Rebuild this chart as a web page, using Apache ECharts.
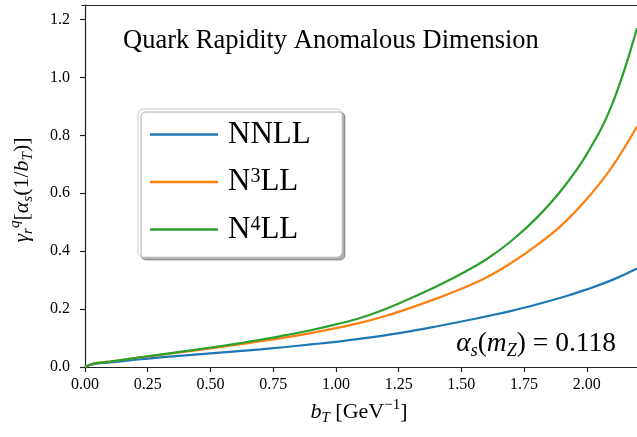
<!DOCTYPE html>
<html>
<head>
<meta charset="utf-8">
<script src="https://cdn.jsdelivr.net/npm/echarts@6/dist/echarts.min.js"></script>
<style>
  html, body { margin: 0; padding: 0; background: #fff; }
  #chart { width: 637px; height: 437px; }
</style>
</head>
<body>
<div id="chart"></div>
<script>
// b_T values (GeV^-1)
var bT = [0, 0.02, 0.05, 0.1, 0.2, 0.3, 0.4, 0.5, 0.6, 0.7, 0.8, 0.9, 1.0,
          1.1, 1.2, 1.3, 1.4, 1.5, 1.6, 1.7, 1.8, 1.9, 2.0, 2.1, 2.2];
// gamma_r^q
var nnll = [0, 0.007, 0.012, 0.016, 0.025, 0.033, 0.040, 0.047, 0.054, 0.061, 0.069, 0.078, 0.087,
            0.098, 0.110, 0.124, 0.140, 0.157, 0.175, 0.194, 0.216, 0.240, 0.268, 0.300, 0.340];
var n3ll = [0, 0.008, 0.014, 0.019, 0.031, 0.042, 0.053, 0.064, 0.076, 0.089, 0.102, 0.117, 0.134,
            0.153, 0.177, 0.205, 0.236, 0.270, 0.309, 0.360, 0.420, 0.490, 0.580, 0.690, 0.830];
var n4ll = [0, 0.008, 0.014, 0.019, 0.031, 0.043, 0.055, 0.067, 0.080, 0.094, 0.110, 0.127, 0.147,
            0.170, 0.201, 0.238, 0.278, 0.322, 0.372, 0.436, 0.515, 0.612, 0.735, 0.905, 1.170];
var xTicks = [0, 0.25, 0.5, 0.75, 1.0, 1.25, 1.5, 1.75, 2.0];
var yTicks = [0, 0.2, 0.4, 0.6, 0.8, 1.0, 1.2];
var seriesNames = ['NNLL', 'N3LL', 'N4LL'];
var legendLabels = { 'NNLL': 'NNLL', 'N3LL': 'N{sup|3}LL', 'N4LL': 'N{sup|4}LL' };

var serif = '"Liberation Serif", "DejaVu Serif", serif';

function pairs(xs, ys) {
	var out = [];
	for (var i = 0; i < xs.length; i++) {
		out.push([xs[i], ys[i]]);
	}
	return out;
}

function makeSeries(name, ys, color) {
	return {
		name: name,
		type: 'line',
		data: pairs(bT, ys),
		smooth: 0.4,
		showSymbol: false,
		clip: true,
		lineStyle: { color: color, width: 2.2 },
		itemStyle: { color: color }
	};
}

var mathRich = {
	i: { fontFamily: serif, fontStyle: 'italic', fontSize: 22, lineHeight: 28, verticalAlign: 'middle' },
	r: { fontFamily: serif, fontSize: 22, lineHeight: 28, verticalAlign: 'middle' },
	sub: { fontFamily: serif, fontStyle: 'italic', fontSize: 15, lineHeight: 15, verticalAlign: 'bottom' },
	sup: { fontFamily: serif, fontSize: 15, lineHeight: 15, verticalAlign: 'top' },
	supi: { fontFamily: serif, fontStyle: 'italic', fontSize: 15, lineHeight: 15, verticalAlign: 'top' }
};

// slightly larger set for the alpha_s note
var noteRich = {
	i: { fontFamily: serif, fontStyle: 'italic', fontSize: 27.5, lineHeight: 33, verticalAlign: 'middle' },
	r: { fontFamily: serif, fontSize: 27.5, lineHeight: 33, verticalAlign: 'middle' },
	sub: { fontFamily: serif, fontStyle: 'italic', fontSize: 18, lineHeight: 18, verticalAlign: 'bottom' }
};

var myChart = echarts.init(document.getElementById('chart'), null, { renderer: 'canvas' });

var option = {
	backgroundColor: '#fff',
	animation: false,
	grid: { left: 82, right: 0, top: 5, bottom: 70, outerBoundsMode: 'none' },
	xAxis: [{
		type: 'value',
		min: -0.012,
		max: 2.2,
		axisLine: { show: true, lineStyle: { color: '#222', width: 1.2 } },
		axisTick: { show: true, inside: false, length: 5, customValues: xTicks, lineStyle: { color: '#222', width: 1.2 } },
		axisLabel: {
			customValues: xTicks, margin: 10, color: '#000', fontFamily: serif, fontSize: 16,
			formatter: function (v) { return v.toFixed(2); }
		},
		splitLine: { show: false }
	}, {
		type: 'value',
		position: 'top',
		min: -0.012,
		max: 2.2,
		axisLine: { show: true, lineStyle: { color: '#222', width: 1.2 } },
		axisTick: { show: false },
		axisLabel: { show: false },
		splitLine: { show: false }
	}],
	yAxis: {
		type: 'value',
		min: 0,
		max: 1.25,
		axisLine: { show: true, lineStyle: { color: '#222', width: 1.2 } },
		axisTick: { show: true, inside: false, length: 5, customValues: yTicks, lineStyle: { color: '#222', width: 1.2 } },
		axisLabel: {
			customValues: yTicks, margin: 12, color: '#000', fontFamily: serif, fontSize: 16,
			formatter: function (v) { return v.toFixed(1); }
		},
		splitLine: { show: false }
	},
	legend: {
		data: seriesNames,
		orient: 'vertical',
		left: 150,
		top: 119,
		z: 20,
		padding: 0,
		itemWidth: 68,
		itemHeight: 2.4,
		itemGap: 16.5,
		icon: 'rect',
		selectedMode: false,
		formatter: function (name) { return legendLabels[name]; },
		textStyle: {
			fontFamily: serif, fontSize: 31, lineHeight: 30, color: '#000', padding: [0, 0, 0, 5],
			rich: {
				sup: { fontFamily: serif, fontSize: 20, lineHeight: 20, verticalAlign: 'top' }
			}
		}
	},
	graphic: [
		{
			type: 'rect',
			z: 1,
			shape: { x: 138, y: 109, width: 204, height: 148, r: 5 },
			style: {
				fill: '#fff', stroke: '#cccccc', lineWidth: 1,
				shadowColor: 'rgba(0,0,0,0.32)', shadowBlur: 0, shadowOffsetX: 3, shadowOffsetY: 3
			}
		},
		{
			type: 'text',
			z: 10,
			x: 123, y: 41,
			style: {
				text: 'Quark Rapidity Anomalous Dimension',
				fontFamily: serif, fontSize: 26.5, fill: '#000',
				align: 'left', verticalAlign: 'middle'
			}
		},
		{
			type: 'text',
			z: 10,
			x: 616, y: 344,
			style: {
				text: '{i|α}{sub|s}{r|(}{i|m}{sub|Z}{r|) = 0.118}',
				rich: noteRich, fill: '#000',
				align: 'right', verticalAlign: 'middle'
			}
		},
		{
			type: 'text',
			z: 10,
			x: 359, y: 412,
			style: {
				text: '{i|b}{sub|T}{r| [GeV}{sup|−1}{r|]}',
				rich: mathRich, fill: '#000',
				align: 'center', verticalAlign: 'middle'
			}
		},
		{
			type: 'text',
			z: 10,
			x: 22, y: 190,
			rotation: Math.PI / 2,
			style: {
				text: '{i|γ}{sub|r}{supi|q}{r|[}{i|α}{sub|s}{r|(1/}{i|b}{sub|T}{r|)]}',
				rich: mathRich, fill: '#000',
				align: 'center', verticalAlign: 'middle'
			}
		}
	],
	series: [
		makeSeries('NNLL', nnll, '#1f77b4'),
		makeSeries('N3LL', n3ll, '#ff7f0e'),
		makeSeries('N4LL', n4ll, '#2ca02c')
	]
};

myChart.setOption(option);
</script>
</body>
</html>
